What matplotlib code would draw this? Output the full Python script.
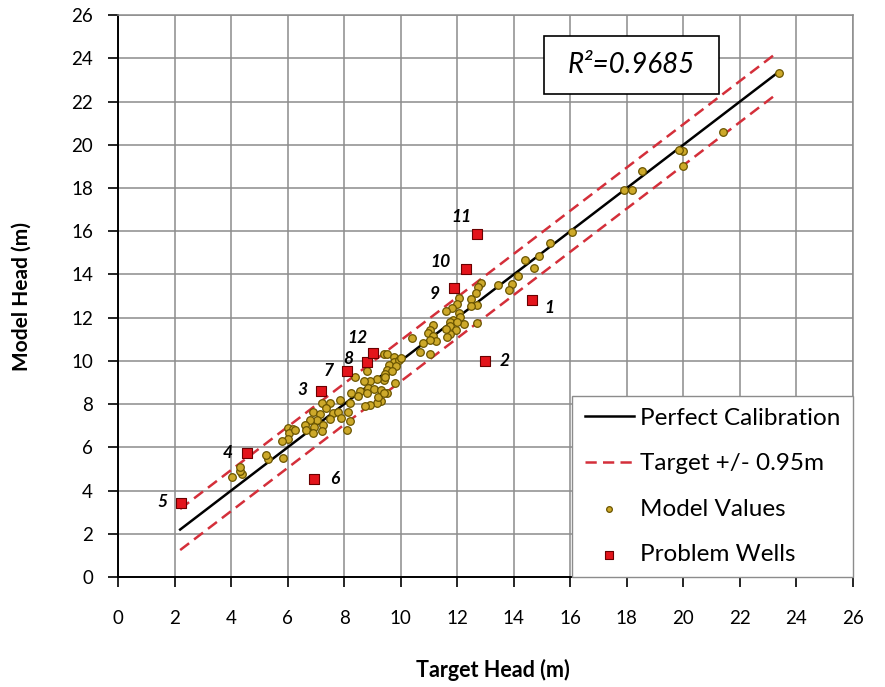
import matplotlib.pyplot as plt
from matplotlib.patches import Rectangle

plt.rcParams['font.family'] = ['Lato', 'DejaVu Sans']

# model values (target head, model head)
model_x = [23.4, 21.4, 20.0, 20.0, 19.85, 18.55, 18.2, 17.9, 16.05, 15.3,
           14.9, 14.4, 14.7, 14.15, 13.95, 13.85, 13.45, 12.85, 12.75, 12.65,
           12.5, 12.7, 12.5, 12.7, 12.25,
           12.05, 12.0, 11.8, 11.6, 12.05, 12.1, 11.85, 11.75, 12.0, 11.75,
           11.95, 11.75, 11.6, 11.65, 11.15, 11.05, 10.95, 11.15, 11.25, 11.05,
           10.8, 10.4, 10.7, 11.05,
           9.4, 9.5, 9.75, 9.75, 9.95, 10.0, 9.6, 9.85, 9.5, 9.7,
           9.45, 9.4, 9.8, 9.45, 9.15, 8.9, 8.7, 8.4, 8.8, 8.85,
           8.55, 8.8, 9.05, 9.3, 9.5, 9.3, 9.15, 8.9, 8.75, 8.5,
           8.25, 8.2, 8.15, 8.2, 8.1, 9.2, 9.4,
           7.85, 7.5, 7.2, 7.35, 6.9, 7.15, 7.6, 7.8, 7.9, 7.5,
           7.05, 6.8, 7.25, 6.95, 6.6, 6.65, 7.2, 6.9, 6.0, 6.2,
           6.05, 6.25, 6.0, 5.8, 5.85, 5.3, 5.25, 4.4, 4.3, 4.3, 4.05]
model_y = [23.3, 20.6, 19.0, 19.7, 19.75, 18.8, 17.9, 17.9, 15.95, 15.45,
           14.85, 14.65, 14.3, 13.95, 13.55, 13.3, 13.5, 13.6, 13.4, 13.15,
           12.85, 12.6, 12.55, 11.75, 11.7,
           12.9, 12.65, 12.45, 12.3, 12.2, 12.05, 11.9, 11.8, 11.8, 11.6,
           11.45, 11.25, 11.5, 11.1, 11.65, 11.45, 11.3, 11.15, 10.9, 10.95,
           10.85, 11.05, 10.4, 10.3,
           10.3, 10.3, 10.2, 9.95, 10.05, 10.15, 9.8, 9.75, 9.6, 9.55,
           9.4, 9.1, 9.0, 9.25, 9.15, 9.05, 9.05, 9.25, 9.55, 8.75,
           8.6, 8.5, 8.7, 8.65, 8.5, 8.15, 8.05, 7.95, 7.9, 8.4,
           8.5, 8.05, 7.65, 7.2, 6.8, 8.35, 8.5,
           8.2, 8.05, 8.05, 7.8, 7.65, 7.55, 7.6, 7.65, 7.35, 7.3,
           7.25, 7.25, 7.05, 6.95, 7.05, 6.8, 6.75, 6.65, 6.9, 6.85,
           6.65, 6.8, 6.4, 6.3, 5.5, 5.45, 5.65, 4.75, 4.9, 5.1, 4.65]

# problem wells
well_ids = ['1', '2', '3', '4', '5', '6', '7', '8', '9', '10', '11', '12']
well_x = [14.63, 12.99, 7.17, 4.57, 2.23, 6.95, 8.09, 8.80, 11.88, 12.31, 12.69, 9.03]
well_y = [12.80, 10.0, 8.61, 5.72, 3.43, 4.55, 9.53, 9.95, 13.39, 14.27, 15.85, 10.38]
# label offsets in pixels
well_dx = [18, 20, -18, -19, -19, 20, -18, -18, -19, -25, -15, -16]
well_dy = [-8, 0, 1, 0, 1, 0, 0, 3, -6, 7, 17, 15]

line_x = [2.2, 23.3]
band = 0.95
r2 = 0.9685

fig = plt.figure(figsize=(8.85, 6.87), dpi=100)
ax = fig.add_axes([0.1333, 0.160, 0.8305, 0.818])

ax.plot(line_x, line_x, color='black', lw=1.8, label='Perfect Calibration', zorder=3)
ax.plot(line_x, [v + band for v in line_x], color='#D42F3A', lw=1.8, ls=(0, (4.5, 2.5)),
        label='Target +/- 0.95m', zorder=3)
ax.plot(line_x, [v - band for v in line_x], color='#D42F3A', lw=1.8, ls=(0, (4.5, 2.5)), zorder=3)
ax.scatter(model_x, model_y, s=30, c='#CDA92A', edgecolors='#6B5500', linewidths=0.9,
           label='Model Values', zorder=4)
ax.scatter(well_x, well_y, s=52, marker='s', c='#E3141B', edgecolors='#6A0000', linewidths=0.8,
           label='Problem Wells', zorder=5)

for i in range(len(well_ids)):
    ax.annotate(well_ids[i], (well_x[i], well_y[i]), xytext=(well_dx[i], well_dy[i]),
                textcoords='offset pixels', ha='center', va='center',
                fontsize=12.5, fontweight='bold', fontstyle='italic', zorder=6)

ax.set_xlim(0, 26)
ax.set_ylim(0, 26)
ax.set_xticks(range(0, 27, 2))
ax.set_yticks(range(0, 27, 2))
ax.grid(True, color='#8C8C8C', lw=1.1)
ax.set_axisbelow(True)
ax.tick_params(direction='out', length=7, width=1.2, labelsize=13.5, color='black', pad=11)
ax.tick_params(axis='x', pad=17)
for side in ['top', 'right']:
    ax.spines[side].set_color('#8C8C8C')
    ax.spines[side].set_linewidth(1.1)
for side in ['left', 'bottom']:
    ax.spines[side].set_linewidth(1.4)

ax.set_xlabel('Target Head (m)', fontsize=15.5, fontweight='bold')
ax.set_ylabel('Model Head (m)', fontsize=15, fontweight='bold')
ax.xaxis.set_label_coords(0.51, -0.145)
ax.yaxis.set_label_coords(-0.117, 0.5)

leg = ax.legend(loc='lower right', fontsize=17.5, frameon=True, fancybox=False,
                borderaxespad=0, handlelength=2.05, handletextpad=0.25,
                labelspacing=1.0, borderpad=0.5, markerscale=0.75)
leg.get_frame().set_edgecolor('#8C8C8C')
leg.get_frame().set_linewidth(1.0)
leg.get_frame().set_alpha(1)

ax.add_patch(Rectangle((0.580, 0.859), 0.238, 0.104, transform=ax.transAxes,
                       facecolor='white', edgecolor='black', lw=1.2, zorder=7))
ax.text(0.699, 0.911, 'R²=%.4f' % r2, transform=ax.transAxes, ha='center', va='center',
        fontsize=20, fontstyle='italic', zorder=8)

fig.savefig('out.png', dpi=100)
